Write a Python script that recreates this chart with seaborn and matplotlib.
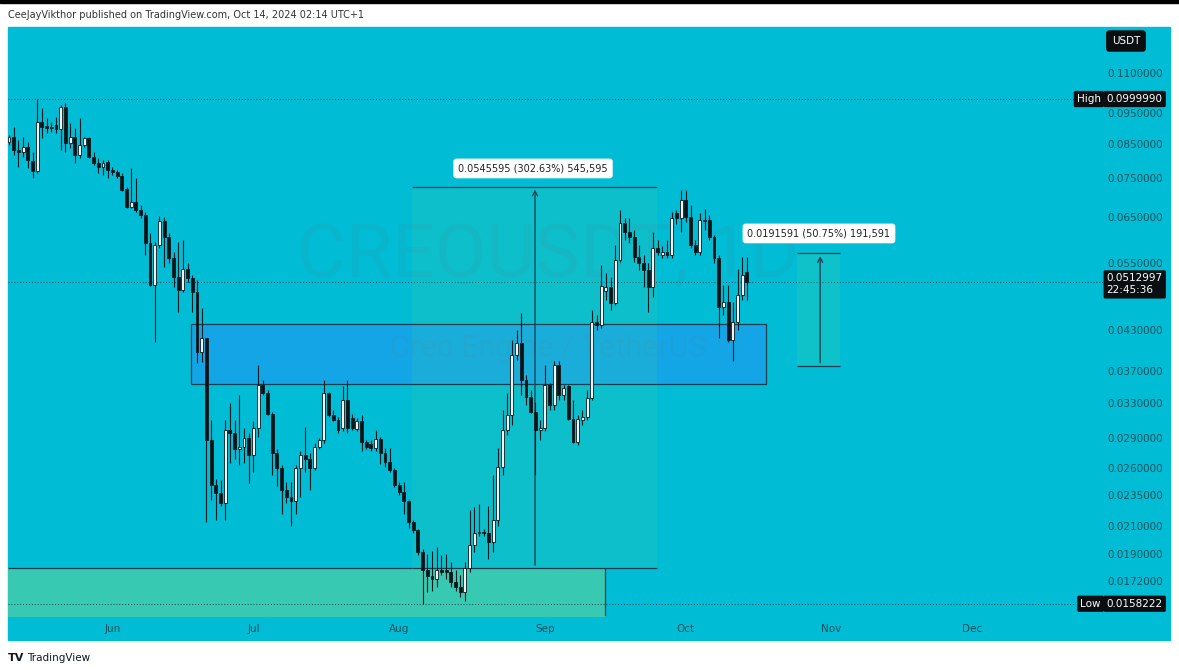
import matplotlib
matplotlib.use('Agg')
import matplotlib.pyplot as plt
import matplotlib.dates as mdates
from matplotlib.patches import Rectangle
from matplotlib.ticker import FixedLocator, NullLocator
import seaborn as sns
import pandas as pd
import numpy as np

# CREOUSDT daily candles, 2024-05-10 .. 2024-10-14
opens = [0.0855, 0.0871, 0.0830, 0.0824, 0.0840, 0.0798, 0.0769, 0.0920, 0.0903, 0.0901,
         0.0910, 0.0896, 0.0972, 0.0852, 0.0871, 0.0815, 0.0846, 0.0867, 0.0809, 0.0792,
         0.0780, 0.0795, 0.0772, 0.0766, 0.0755, 0.0720, 0.0674, 0.0687, 0.0667, 0.0655,
         0.0591, 0.0507, 0.0587, 0.0641, 0.0605, 0.0560, 0.0522, 0.0498, 0.0538, 0.0520,
         0.0494, 0.0397, 0.0417, 0.0288, 0.0244, 0.0237, 0.0229, 0.0299, 0.0295, 0.0278,
         0.0281, 0.0290, 0.0272, 0.0301, 0.0352, 0.0342, 0.0317, 0.0274, 0.0260, 0.0240,
         0.0234, 0.0230, 0.0260, 0.0272, 0.0268, 0.0260, 0.0281, 0.0288, 0.0342, 0.0315,
         0.0310, 0.0301, 0.0333, 0.0312, 0.0300, 0.0309, 0.0286, 0.0284, 0.0279, 0.0289,
         0.0274, 0.0266, 0.0258, 0.0244, 0.0238, 0.0230, 0.0213, 0.0207, 0.0191, 0.0179,
         0.0175, 0.0173, 0.0179, 0.0179, 0.0178, 0.0171, 0.0168, 0.0165, 0.0180, 0.0196,
         0.0205, 0.0206, 0.0205, 0.0198, 0.0215, 0.0261, 0.0299, 0.0315, 0.0393, 0.0410,
         0.0358, 0.0337, 0.0319, 0.0299, 0.0301, 0.0352, 0.0327, 0.0379, 0.0339, 0.0350,
         0.0311, 0.0286, 0.0310, 0.0313, 0.0335, 0.0443, 0.0438, 0.0496, 0.0503, 0.0475,
         0.0556, 0.0636, 0.0615, 0.0605, 0.0562, 0.0550, 0.0536, 0.0503, 0.0580, 0.0566,
         0.0572, 0.0566, 0.0660, 0.0648, 0.0692, 0.0650, 0.0587, 0.0572, 0.0643, 0.0643,
         0.0605, 0.0560, 0.0468, 0.0477, 0.0415, 0.0443, 0.0489, 0.0532]
highs = [0.0877, 0.0903, 0.0861, 0.0871, 0.0855, 0.0824, 0.099999, 0.0968, 0.0933, 0.0920,
         0.0937, 0.0979, 0.0986, 0.0916, 0.0900, 0.0933, 0.0871, 0.0871, 0.0824, 0.0806,
         0.0801, 0.0801, 0.0780, 0.0772, 0.0764, 0.0725, 0.0778, 0.0749, 0.0679, 0.0662,
         0.0613, 0.0594, 0.0653, 0.0650, 0.0613, 0.0572, 0.0594, 0.0598, 0.0550, 0.0526,
         0.0516, 0.0466, 0.0418, 0.0310, 0.0250, 0.0249, 0.0310, 0.0329, 0.0310, 0.0339,
         0.0301, 0.0295, 0.0308, 0.0379, 0.0358, 0.0346, 0.0319, 0.0278, 0.0263, 0.0247,
         0.0247, 0.0263, 0.0276, 0.0302, 0.0274, 0.0285, 0.0290, 0.0358, 0.0343, 0.0321,
         0.0313, 0.0350, 0.0358, 0.0317, 0.0312, 0.0315, 0.0288, 0.0288, 0.0299, 0.0291,
         0.0280, 0.0280, 0.0260, 0.0247, 0.0247, 0.0231, 0.0215, 0.0208, 0.0193, 0.0190,
         0.0192, 0.0195, 0.0189, 0.0190, 0.0184, 0.0179, 0.0176, 0.0184, 0.0223, 0.0225,
         0.0228, 0.0208, 0.0226, 0.0253, 0.0279, 0.0321, 0.0342, 0.0415, 0.0430, 0.0458,
         0.0365, 0.0346, 0.0331, 0.0310, 0.0379, 0.0355, 0.0384, 0.0384, 0.0352, 0.0352,
         0.0333, 0.0315, 0.0321, 0.0346, 0.0463, 0.0454, 0.0545, 0.0530, 0.0522, 0.0587,
         0.0667, 0.0648, 0.0648, 0.0620, 0.0587, 0.0566, 0.0550, 0.0615, 0.0598, 0.0585,
         0.0598, 0.0662, 0.0667, 0.0717, 0.0717, 0.0679, 0.0598, 0.0660, 0.0670, 0.0655,
         0.0609, 0.0566, 0.0507, 0.0507, 0.0477, 0.0538, 0.0562, 0.0562]
lows = [0.0846, 0.0815, 0.0780, 0.0809, 0.0778, 0.0749, 0.0764, 0.0867, 0.0884, 0.0887,
        0.0884, 0.0830, 0.0824, 0.0836, 0.0792, 0.0806, 0.0839, 0.0806, 0.0786, 0.0764,
        0.0758, 0.0749, 0.0758, 0.0749, 0.0715, 0.0672, 0.0672, 0.0662, 0.0648, 0.0566,
        0.0505, 0.0412, 0.0580, 0.0542, 0.0550, 0.0503, 0.0459, 0.0494, 0.0512, 0.0459,
        0.0381, 0.0383, 0.0213, 0.0231, 0.0215, 0.0226, 0.0215, 0.0265, 0.0268, 0.0263,
        0.0265, 0.0246, 0.0256, 0.0291, 0.0339, 0.0315, 0.0253, 0.0243, 0.0220, 0.0229,
        0.0210, 0.0220, 0.0234, 0.0256, 0.0240, 0.0258, 0.0278, 0.0285, 0.0313, 0.0308,
        0.0295, 0.0297, 0.0295, 0.0299, 0.0297, 0.0276, 0.0278, 0.0276, 0.0276, 0.0264,
        0.0261, 0.0256, 0.0242, 0.0235, 0.0220, 0.0209, 0.0205, 0.0189, 0.0158222, 0.0165,
        0.0166, 0.0168, 0.0176, 0.0173, 0.0168, 0.0166, 0.0162, 0.0160, 0.0178, 0.0191,
        0.0203, 0.0203, 0.0186, 0.0191, 0.0210, 0.0253, 0.0293, 0.0304, 0.0386, 0.0339,
        0.0327, 0.0318, 0.0253, 0.0288, 0.0297, 0.0321, 0.0321, 0.0333, 0.0333, 0.0310,
        0.0285, 0.0283, 0.0304, 0.0310, 0.0333, 0.0430, 0.0433, 0.0480, 0.0463, 0.0471,
        0.0552, 0.0598, 0.0591, 0.0552, 0.0536, 0.0503, 0.0459, 0.0485, 0.0566, 0.0560,
        0.0560, 0.0560, 0.0633, 0.0615, 0.0639, 0.0580, 0.0566, 0.0566, 0.0620, 0.0598,
        0.0550, 0.0417, 0.0454, 0.0412, 0.0384, 0.0430, 0.0480, 0.0480]
closes = [0.0871, 0.0830, 0.0824, 0.0839, 0.0801, 0.0769, 0.0920, 0.0903, 0.0901, 0.0899,
          0.0896, 0.0972, 0.0852, 0.0871, 0.0815, 0.0846, 0.0867, 0.0809, 0.0792, 0.0780,
          0.0792, 0.0772, 0.0766, 0.0755, 0.0717, 0.0674, 0.0687, 0.0667, 0.0655, 0.0591,
          0.0507, 0.0587, 0.0641, 0.0605, 0.0560, 0.0522, 0.0498, 0.0538, 0.0520, 0.0494,
          0.0397, 0.0417, 0.0288, 0.0244, 0.0237, 0.0229, 0.0299, 0.0295, 0.0278, 0.0281,
          0.0290, 0.0272, 0.0301, 0.0352, 0.0342, 0.0317, 0.0274, 0.0260, 0.0240, 0.0234,
          0.0230, 0.0260, 0.0272, 0.0268, 0.0260, 0.0281, 0.0288, 0.0342, 0.0315, 0.0310,
          0.0299, 0.0333, 0.0301, 0.0301, 0.0309, 0.0286, 0.0281, 0.0279, 0.0289, 0.0274,
          0.0266, 0.0258, 0.0244, 0.0238, 0.0230, 0.0213, 0.0207, 0.0191, 0.0179, 0.0175,
          0.0173, 0.0179, 0.0178, 0.0178, 0.0171, 0.0168, 0.0165, 0.0180, 0.0196, 0.0205,
          0.0206, 0.0205, 0.0198, 0.0215, 0.0261, 0.0299, 0.0315, 0.0393, 0.0410, 0.0358,
          0.0337, 0.0319, 0.0299, 0.0301, 0.0352, 0.0327, 0.0379, 0.0339, 0.0348, 0.0311,
          0.0286, 0.0311, 0.0313, 0.0335, 0.0443, 0.0438, 0.0505, 0.0503, 0.0475, 0.0556,
          0.0636, 0.0615, 0.0605, 0.0562, 0.0550, 0.0536, 0.0503, 0.0580, 0.0572, 0.0572,
          0.0566, 0.0648, 0.0648, 0.0692, 0.0650, 0.0587, 0.0572, 0.0643, 0.0641, 0.0605,
          0.0560, 0.0468, 0.0477, 0.0415, 0.0443, 0.0489, 0.0526, 0.0512997]

price_ticks = [0.11, 0.095, 0.085, 0.075, 0.065, 0.055, 0.043, 0.037, 0.033,
               0.029, 0.026, 0.0235, 0.021, 0.019, 0.0172]
month_ticks = ['2024-06-01', '2024-07-01', '2024-08-01', '2024-09-01',
               '2024-10-01', '2024-11-01', '2024-12-01']
month_labels = ['Jun', 'Jul', 'Aug', 'Sep', 'Oct', 'Nov', 'Dec']

high_price = 0.0999990
low_price = 0.0158222
last_price = 0.0512997
countdown = '22:45:36'

# drawings on the chart
blue_zone = (0.0353, 0.0439)
green_zone_top = 0.0180274
range1_low, range1_high = 0.0180274, 0.0725869
range2_low, range2_high = 0.0377539, 0.0569130
range1_label = '0.0545595 (302.63%) 545,595'
range2_label = '0.0191591 (50.75%) 191,591'

BG = '#00bcd4'
TXT = '#17505c'
LINE = '#1d3c4f'

df = pd.DataFrame({'open': opens, 'high': highs, 'low': lows, 'close': closes})
df['date'] = pd.date_range('2024-05-10', periods=len(df), freq='D')
df['x'] = mdates.date2num(df['date'])
df['up'] = df['close'] >= df['open']

sns.set_theme(style='white')
plt.rcParams['font.family'] = ['DejaVu Sans']

fig = plt.figure(figsize=(11.79, 6.70), dpi=100)
W, H = 1179, 670
fig.patches.append(Rectangle((0, 1 - 3 / H), 1, 3 / H, transform=fig.transFigure,
                             color='black', zorder=-5))
fig.patches.append(Rectangle((8 / W, 30 / H), 1162 / W, 613 / H, transform=fig.transFigure,
                             color=BG, zorder=-5))

ax = fig.add_axes([8 / W, 54 / H, 1162 / W, 589 / H])
ax.set_facecolor(BG)
ax.patch.set_alpha(0)
for s in ax.spines.values():
    s.set_visible(False)

def t(s):
    return mdates.date2num(pd.Timestamp(s))

x0 = df['x'].iloc[0] - 1 / 4.7
ax.set_xlim(x0, x0 + 1162 / 4.7)
ax.set_yscale('log')
ax.set_ylim(0.01513, 0.1301)

# watermark
ax.text(0.465, 0.61, 'CREOUSDT, 1D', transform=ax.transAxes, ha='center', va='center',
        fontsize=54, family='Roboto', color='#4d8a95', alpha=0.12, zorder=1.3)
ax.text(0.465, 0.455, 'Creo Engine / TetherUS', transform=ax.transAxes, ha='center', va='center',
        fontsize=22, family='Roboto', color='#4d8a95', alpha=0.12, zorder=1.3)

# zones (under the candles)
bz0, bz1 = t('2024-06-17 17:00'), t('2024-10-18 02:00')
ax.fill_between([bz0, bz1], blue_zone[0], blue_zone[1], color='#2196f3', alpha=0.6, lw=0, zorder=1)
ax.add_patch(Rectangle((bz0, blue_zone[0]), bz1 - bz0, blue_zone[1] - blue_zone[0],
                       fill=False, ec=LINE, lw=0.9, zorder=2.5))
gz1 = t('2024-09-13 19:00')
ax.fill_between([x0, gz1], 0.01, green_zone_top, color='#37c9b2', lw=0, zorder=1)
ax.vlines(gz1, 0.01, green_zone_top, color=LINE, lw=0.9, zorder=2.5)

# price range 1
r1a, r1b, r1m = t('2024-08-03 17:00'), t('2024-09-24 22:00'), t('2024-08-29 22:00')
ax.fill_between([r1a, r1b], range1_low, range1_high, color='#3fd0a8', alpha=0.2, lw=0, zorder=1.2)
ax.hlines([range1_low, range1_high], r1a, r1b, color=LINE, lw=0.9, zorder=2.5)
ax.hlines(range1_low, x0, r1a, color=LINE, lw=0.9, zorder=2.5)
ax.annotate('', xy=(r1m, range1_high), xytext=(r1m, range1_low),
            arrowprops=dict(arrowstyle='->', color=LINE, lw=0.9, mutation_scale=9), zorder=2.5)
ax.text(t('2024-08-29 12:00'), 0.0776, range1_label, ha='center', va='center', fontsize=7,
        color='#222', zorder=6,
        bbox=dict(boxstyle='round,pad=0.5,rounding_size=0.3', fc='white', ec='none'))

# price range 2
r2a, r2b, r2m = t('2024-10-24 17:00'), t('2024-11-02 19:00'), t('2024-10-29 14:00')
ax.fill_between([r2a, r2b], range2_low, range2_high, color='#3fd0a8', alpha=0.25, lw=0, zorder=1.2)
ax.hlines([range2_low, range2_high], r2a, r2b, color=LINE, lw=0.9, zorder=2.5)
ax.annotate('', xy=(r2m, range2_high), xytext=(r2m, range2_low),
            arrowprops=dict(arrowstyle='->', color=LINE, lw=0.9, mutation_scale=9), zorder=2.5)
ax.text(t('2024-10-29 08:00'), 0.0612, range2_label, ha='center', va='center', fontsize=7,
        color='#222', zorder=6,
        bbox=dict(boxstyle='round,pad=0.5,rounding_size=0.3', fc='white', ec='none'))

# candles
wick_col = '#0d1a1f'
ax.vlines(df['x'], df['low'], df['high'], color=wick_col, lw=0.8, zorder=3)
body_lo = np.minimum(df['open'], df['close'])
body_hi = np.maximum(df['open'], df['close'])
body_h = np.maximum(body_hi - body_lo, body_lo * 0.004)
face = np.where(df['up'], '#f2f2f2', '#0d1214')
ax.bar(df['x'], body_h, bottom=body_lo, width=0.62, color=face,
       edgecolor=wick_col, linewidth=0.6, zorder=4)

# high / low / last lines
dots = (0, (1, 2))
ax.axhline(high_price, xmax=0.918, color=LINE, lw=0.7, ls=dots, zorder=1)
ax.axhline(low_price, xmax=0.918, color=LINE, lw=0.7, ls=dots, zorder=1.5)
ax.axhline(last_price, xmax=0.944, color=LINE, lw=0.7, ls=dots, zorder=1)

# axes ticks
ax.yaxis.tick_right()
ax.yaxis.set_major_locator(FixedLocator(price_ticks))
ax.yaxis.set_minor_locator(NullLocator())
ax.set_yticklabels([f'{v:.7f}' for v in price_ticks])
ax.tick_params(axis='y', length=0, pad=-45, labelsize=7.5, labelcolor=TXT)
ax.set_xticks([t(m) for m in month_ticks])
ax.set_xticklabels(month_labels)
ax.tick_params(axis='x', length=0, pad=6, labelsize=7.5, labelcolor=TXT)
ax.grid(False)

ytr = ax.get_yaxis_transform()
tag = dict(boxstyle='round,pad=0.3,rounding_size=0.15', fc='#0b0f12', ec='none')
xv = 0.9455
ax.text(xv, high_price, f'{high_price:.7f}', transform=ytr, ha='left', va='center',
        fontsize=7.5, color='white', bbox=tag, zorder=8)
ax.text(0.9405, high_price, 'High', transform=ytr, ha='right', va='center',
        fontsize=7.5, color='white', bbox=tag, zorder=8)
ax.text(xv, low_price, f'{low_price:.7f}', transform=ytr, ha='left', va='center',
        fontsize=7.5, color='white', bbox=tag, zorder=8)
ax.text(0.9405, low_price, 'Low', transform=ytr, ha='right', va='center',
        fontsize=7.5, color='white', bbox=tag, zorder=8)
ax.annotate(f'{last_price:.7f}\n{countdown}', xy=(xv, last_price), xycoords=ytr,
            xytext=(0, 6), textcoords='offset points', ha='left', va='top',
            fontsize=7.5, color='white', linespacing=1.25, bbox=tag, zorder=8)

fig.text(1126 / W, 1 - 41 / H, 'USDT', ha='center', va='center', fontsize=7.5, color='white',
         bbox=dict(boxstyle='round,pad=0.55,rounding_size=0.3', fc='#0b0f12', ec='none'))

fig.text(8 / W, 1 - 15 / H, 'CeeJayVikthor published on TradingView.com, Oct 14, 2024 02:14 UTC+1',
         ha='left', va='center', fontsize=7, color='#333333')
fig.text(8 / W, 1 - 658 / H, 'TV', ha='left', va='center', fontsize=8, fontweight='bold',
         color='#131722')
fig.text(27 / W, 1 - 658 / H, 'TradingView', ha='left', va='center', fontsize=7.5, color='#131722')

fig.savefig('out.png', dpi=100, facecolor='white')
